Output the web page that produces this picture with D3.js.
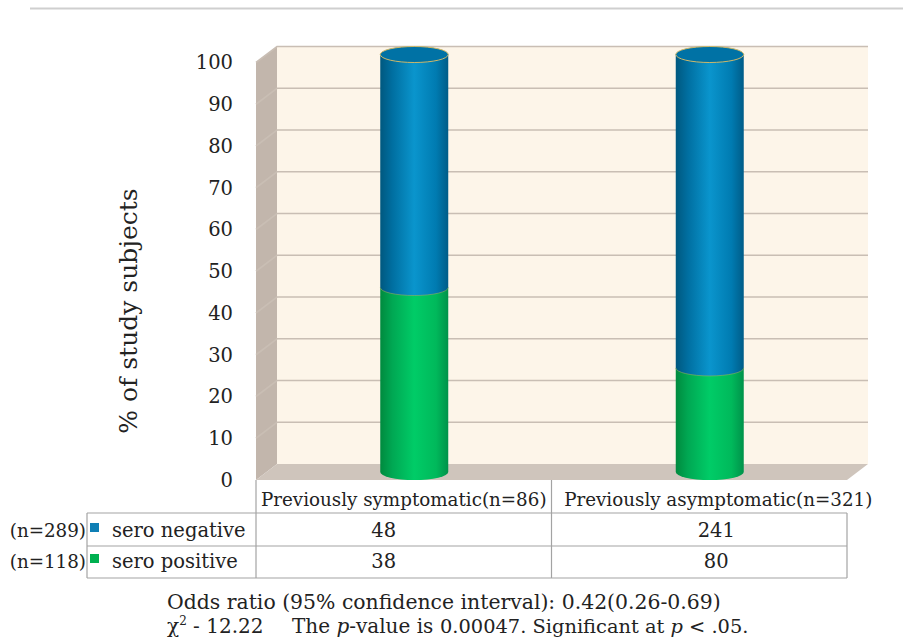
<!DOCTYPE html>
<html>
<head>
<meta charset="utf-8">
<script src="https://cdn.jsdelivr.net/npm/d3@7"></script>
<style>
  body { margin: 0; background: #fff; }
  svg { display: block; font-family: "DejaVu Serif", serif; }
</style>
</head>
<body>
<svg id="chart" width="903" height="644"></svg>
<script>
// data
const categories = ["Previously symptomatic(n=86)", "Previously asymptomatic(n=321)"];
const seroNegative = [48, 241];
const seroPositive = [38, 80];
const seriesNames = ["sero negative", "sero positive"];
const seriesTotals = ["(n=289)", "(n=118)"];
const yTicks = [0, 10, 20, 30, 40, 50, 60, 70, 80, 90, 100];
const yTitle = "% of study subjects";

const svg = d3.select("#chart");

// back wall plane + oblique depth offset
const y = d3.scaleLinear().domain([0, 100]).range([464, 46.5]);
const x = d3.scaleBand().domain(categories).range([277, 868]);
const dx = -21, dy = 16;

// percentages per category
const pctPos = categories.map((c, i) => seroPositive[i] / (seroPositive[i] + seroNegative[i]) * 100);

// top separator line
svg.append("line")
    .attr("x1", 30).attr("x2", 903).attr("y1", 8.5).attr("y2", 8.5)
    .style("stroke", "#cfcfcf").style("stroke-width", 2);

// walls
const [x0, x1] = x.range();
svg.append("rect")
    .attr("x", x0).attr("y", y(100))
    .attr("width", x1 - x0).attr("height", y(0) - y(100))
    .attr("fill", "#fdf5e9");

svg.append("polygon")
    .attr("points", [[x0, y(100)], [x0, y(0)], [x0 + dx, y(0) + dy], [x0 + dx, y(100) + dy]].join(" "))
    .attr("fill", "#c2b6ac");

svg.append("polygon")
    .attr("points", [[x0, y(0)], [x1, y(0)], [x1 + dx, y(0) + dy], [x0 + dx, y(0) + dy]].join(" "))
    .attr("fill", "#cfc5bc");

// gridlines on back wall and side wall
svg.selectAll(".grid")
    .data(yTicks.filter(d => d > 0))
    .enter()
    .append("path")
    .attr("class", "grid")
    .attr("d", d => `M${x0 + dx},${y(d) + dy}L${x0},${y(d)}L${x1},${y(d)}`)
    .style("fill", "none")
    .style("stroke", "#c9beb4")
    .style("stroke-width", 1.6);

// tick labels (front plane)
svg.selectAll(".tick-label")
    .data(yTicks)
    .enter()
    .append("text")
    .attr("class", "tick-label")
    .attr("x", 233)
    .attr("y", d => y(d) + dy)
    .attr("dy", "0.35em")
    .attr("text-anchor", "end")
    .style("font-size", "19.5px")
    .style("fill", "#222")
    .text(d => d);

// y axis title
svg.append("text")
    .attr("transform", "translate(137,311) rotate(-90)")
    .attr("text-anchor", "middle")
    .style("font-size", "25px")
    .style("fill", "#222")
    .text(yTitle);

// gradients for cylinders
const defs = svg.append("defs");
function grad(id, stops) {
    const g = defs.append("linearGradient").attr("id", id)
        .attr("x1", "0%").attr("x2", "100%").attr("y1", "0%").attr("y2", "0%");
    stops.forEach(s => g.append("stop").attr("offset", s[0]).attr("stop-color", s[1]));
}
grad("blueGrad", [["0%", "#00587f"], ["18%", "#006fa1"], ["50%", "#0a95cd"], ["82%", "#007bb1"], ["100%", "#005c88"]]);
grad("greenGrad", [["0%", "#008a3e"], ["18%", "#00a853"], ["50%", "#00cc67"], ["82%", "#00b95b"], ["100%", "#00924a"]]);

// cylinders
const rx = 34, ry = 8;
const cx = c => x(c) + x.bandwidth() / 2 + dx / 2;
const cy = v => y(v) + dy / 2;

function segment(c, v0, v1) {
    const l = cx(c) - rx, r = cx(c) + rx;
    return `M${l},${cy(v1)}L${l},${cy(v0)}A${rx},${ry} 0 0 0 ${r},${cy(v0)}L${r},${cy(v1)}Z`;
}

const bars = svg.selectAll(".bar")
    .data(categories)
    .enter()
    .append("g")
    .attr("class", "bar");

// sero positive (bottom)
bars.append("path")
    .attr("d", (c, i) => segment(c, 0, pctPos[i]))
    .attr("fill", "url(#greenGrad)");

// sero negative (top)
bars.append("path")
    .attr("d", (c, i) => segment(c, pctPos[i], 100))
    .attr("fill", "url(#blueGrad)");

// seam between segments
bars.append("path")
    .attr("d", (c, i) => `M${cx(c) - rx},${cy(pctPos[i])}A${rx},${ry} 0 0 0 ${cx(c) + rx},${cy(pctPos[i])}`)
    .style("fill", "none")
    .style("stroke", "#9fae5a")
    .style("stroke-width", 0.8)
    .style("opacity", 0.7);

// top cap
bars.append("ellipse")
    .attr("cx", c => cx(c))
    .attr("cy", cy(100))
    .attr("rx", rx)
    .attr("ry", ry)
    .attr("fill", "#0072a5")
    .style("stroke", "#cdb86a")
    .style("stroke-width", 1);

// data table under the floor
const tLeft = 87, tTop = y(0) + dy;
const rowH = [tTop, 513, 546, 578];
const colX = [x0 + dx, x(categories[1]) + dx, x1 + dx];
const lineColor = "#a3a3a3";

const table = svg.append("g").style("stroke", lineColor).style("stroke-width", 1.2);
[rowH[1], rowH[2], rowH[3]].forEach(yy => {
    table.append("line").attr("x1", tLeft).attr("x2", colX[2]).attr("y1", yy).attr("y2", yy);
});
table.append("line").attr("x1", tLeft).attr("x2", tLeft).attr("y1", rowH[1]).attr("y2", rowH[3]);
table.append("line").attr("x1", colX[0]).attr("x2", colX[0]).attr("y1", rowH[0]).attr("y2", rowH[3]);
table.append("line").attr("x1", colX[1]).attr("x2", colX[1]).attr("y1", rowH[0]).attr("y2", rowH[3]);
table.append("line").attr("x1", colX[2]).attr("x2", colX[2]).attr("y1", rowH[1]).attr("y2", rowH[3]);

// header labels
svg.selectAll(".cat-label")
    .data(categories)
    .enter()
    .append("text")
    .attr("class", "cat-label")
    .attr("x", c => x(c) + dx + x.bandwidth() / 2 + (c === categories[1] ? 19 : 0))
    .attr("y", 506)
    .attr("text-anchor", "middle")
    .style("font-size", "18.3px")
    .style("fill", "#222")
    .text(d => d);

// row labels with legend keys
const rows = [seroNegative, seroPositive];
const rowColors = ["#0f7fb5", "#00b050"];
const rowBase = [537, 568];

rows.forEach((vals, r) => {
    svg.append("text")
        .attr("x", 86).attr("y", rowBase[r])
        .attr("text-anchor", "end")
        .style("font-size", "18.3px")
        .style("fill", "#222")
        .text(seriesTotals[r]);
    svg.append("rect")
        .attr("x", 90).attr("y", rowBase[r] - 14)
        .attr("width", 9).attr("height", 9)
        .attr("fill", rowColors[r]);
    svg.append("text")
        .attr("x", 112).attr("y", rowBase[r])
        .style("font-size", "19.5px")
        .style("fill", "#222")
        .text(seriesNames[r]);
    svg.selectAll(".val" + r)
        .data(vals)
        .enter()
        .append("text")
        .attr("x", (v, i) => x(categories[i]) + dx + x.bandwidth() / 2 + (i === 0 ? -20 : 17))
        .attr("y", rowBase[r])
        .attr("text-anchor", "middle")
        .style("font-size", "19.5px")
        .style("fill", "#222")
        .text(v => v);
});

// statistics footnote
const note = svg.append("g").style("font-size", "20px").style("fill", "#222");
note.append("text").attr("x", 167).attr("y", 609)
    .style("font-size", "20.4px")
    .text("Odds ratio (95% confidence interval): 0.42(0.26-0.69)");
const l2 = note.append("text").attr("x", 167).attr("y", 633);
l2.append("tspan").text("χ");
l2.append("tspan").attr("dy", -8).style("font-size", "12px").text("2");
l2.append("tspan").attr("dy", 8).text(" - 12.22");
const l3 = note.append("text").attr("x", 292).attr("y", 633);
l3.append("tspan").text("The ");
l3.append("tspan").style("font-style", "italic").text("p");
l3.append("tspan").text("-value is");
const l4 = note.append("text").attr("x", 440).attr("y", 633).style("font-size", "19.4px");
l4.append("tspan").text("0.00047. Significant at ");
l4.append("tspan").style("font-style", "italic").text("p");
l4.append("tspan").text(" < .05.");
</script>
</body>
</html>
